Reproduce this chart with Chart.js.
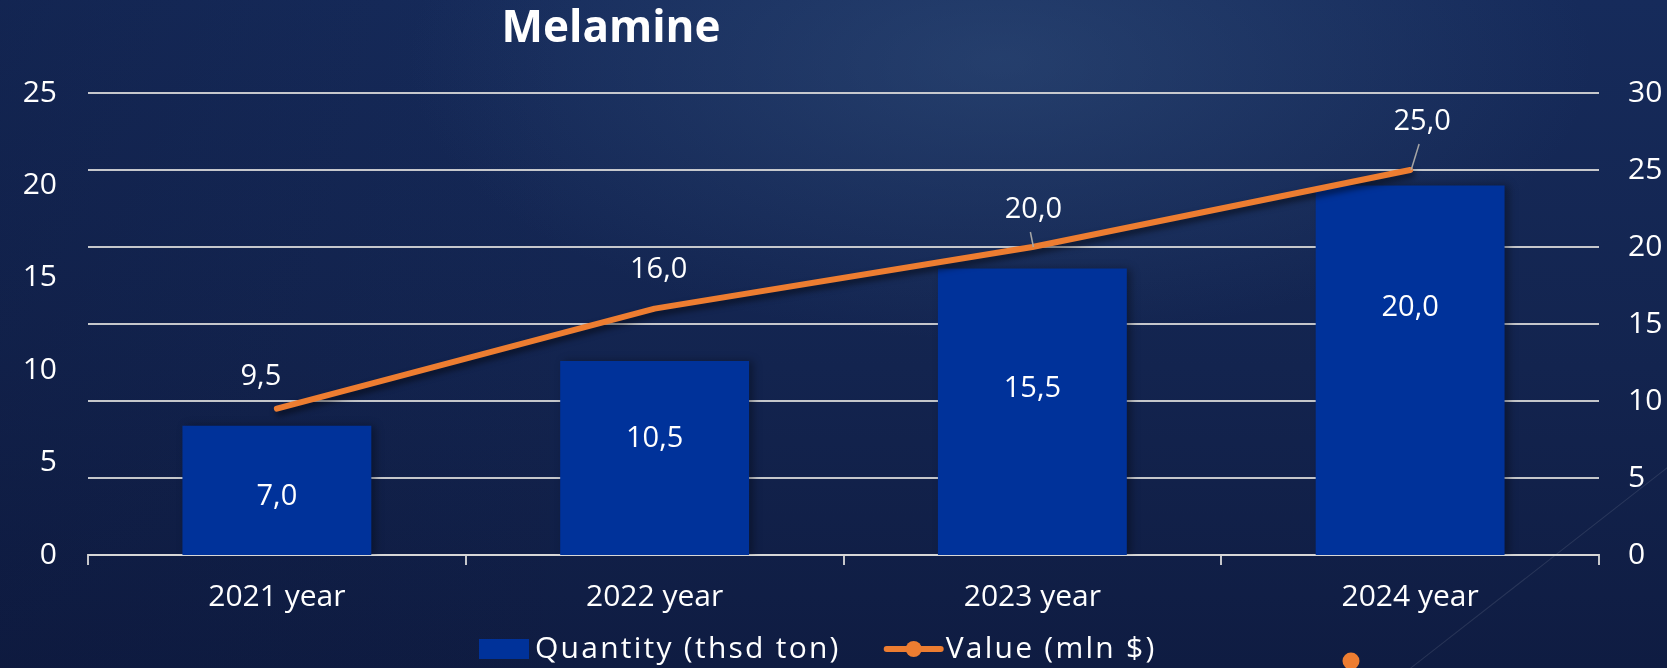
<!DOCTYPE html>
<html>
<head>
<meta charset="utf-8">
<script src="https://cdn.jsdelivr.net/npm/chart.js@4"></script>
<style>
  html, body { margin: 0; padding: 0; }
  body {
    width: 1667px; height: 668px; overflow: hidden; position: relative;
    background:
      radial-gradient(ellipse 760px 360px at 1000px 60px, rgba(62, 96, 140, 0.38), rgba(62, 96, 140, 0) 78%),
      linear-gradient(to right, rgba(10,20,55,0.25) 0%, rgba(10,20,55,0) 35%),
      linear-gradient(to bottom, #162b5b 0%, #13244f 55%, #0f1c42 100%);
  }
  .streak {
    position: absolute; left: 1410px; top: 668px; width: 340px; height: 1px;
    background: rgba(255,255,255,0.10); transform: rotate(-38deg); transform-origin: 0 0;
  }
  #wrap { position: absolute; left: 0; top: 0; width: 1667px; height: 668px; }
</style>
</head>
<body>
<div class="streak"></div>
<div id="wrap"><canvas id="chart" width="1667" height="668"></canvas></div>
<script>
// Melamine: quantity (bars, left axis) and value (line, right axis)
const years = ['2021 year', '2022 year', '2023 year', '2024 year'];
const quantity = [7.0, 10.5, 15.5, 20.0];   // thsd ton
const value = [9.5, 16.0, 20.0, 25.0];      // mln $

const FONT = "'Open Sans', 'Noto Sans', sans-serif";
const SPACING = '1.5px';
const fmt = v => v.toFixed(1).replace('.', ',');

// label placement (fraction of bar height, offsets for line labels)
const barLabelAt = [0.45, 0.60, 0.58, 0.67];
const lineLabelDx = [-16, 4, 1, 12];
const lineLabelDy = [-32, -39, -37, -48];
const lineLabelLeader = [false, false, true, true];

const shadows = {
  id: 'shadows',
  beforeDatasetDraw(chart, args) {
    const ctx = chart.ctx;
    ctx.save();
    if (args.meta.type === 'line') {
      ctx.shadowColor = 'rgba(0,0,0,0.55)';
      ctx.shadowBlur = 6;
      ctx.shadowOffsetX = 2;
      ctx.shadowOffsetY = 4;
    } else {
      ctx.shadowColor = 'rgba(0,0,0,0.35)';
      ctx.shadowBlur = 8;
      ctx.shadowOffsetX = 4;
    }
  },
  afterDatasetDraw(chart) {
    chart.ctx.restore();
  }
};

const valueLabels = {
  id: 'valueLabels',
  afterDatasetsDraw(chart) {
    const ctx = chart.ctx;
    ctx.save();
    ctx.font = `400 29px ${FONT}`;
    ctx.fillStyle = '#ffffff';
    ctx.textAlign = 'center';
    ctx.textBaseline = 'middle';

    chart.getDatasetMeta(0).data.forEach((bar, i) => {
      const y = bar.base - barLabelAt[i] * (bar.base - bar.y);
      ctx.fillText(fmt(quantity[i]), bar.x, y);
    });

    chart.getDatasetMeta(1).data.forEach((pt, i) => {
      const lx = pt.x + lineLabelDx[i];
      const ly = pt.y + lineLabelDy[i];
      if (lineLabelLeader[i]) {
        ctx.strokeStyle = '#a6a6a6';
        ctx.lineWidth = 1.5;
        ctx.beginPath();
        ctx.moveTo(lx - 3, ly + 22);
        ctx.lineTo(pt.x + 1, pt.y);
        ctx.stroke();
      }
      ctx.fillText(fmt(value[i]), lx, ly);
    });
    ctx.restore();
  }
};

// title + legend drawn on the canvas
const decor = {
  id: 'decor',
  afterDraw(chart) {
    const ctx = chart.ctx;
    const ds = chart.data.datasets;
    ctx.save();
    ctx.fillStyle = '#ffffff';
    ctx.letterSpacing = '0px';
    ctx.font = `700 44px ${FONT}`;
    ctx.textAlign = 'center';
    ctx.textBaseline = 'middle';
    ctx.fillText('Melamine', 611, 29);

    const ly = 649;
    ctx.letterSpacing = '2.25px';
    ctx.font = `400 30px ${FONT}`;
    ctx.textAlign = 'left';
    let x = 479;
    ctx.fillStyle = ds[0].backgroundColor;
    ctx.fillRect(x, ly - 10, 50, 20);
    x += 56;
    ctx.fillStyle = '#ffffff';
    ctx.fillText(ds[0].label, x, ly);
    x += ctx.measureText(ds[0].label).width + 43;

    ctx.strokeStyle = ds[1].borderColor;
    ctx.lineWidth = 6;
    ctx.lineCap = 'round';
    ctx.beginPath();
    ctx.moveTo(x + 3, ly);
    ctx.lineTo(x + 57, ly);
    ctx.stroke();
    ctx.fillStyle = ds[1].borderColor;
    ctx.beginPath();
    ctx.arc(x + 30, ly, 8, 0, Math.PI * 2);
    ctx.fill();
    x += 62;
    ctx.fillStyle = '#ffffff';
    ctx.fillText(ds[1].label, x, ly);

    // spare series marker below the legend row
    ctx.fillStyle = ds[1].borderColor;
    ctx.beginPath();
    ctx.arc(1351, 661, 8.5, 0, Math.PI * 2);
    ctx.fill();
    ctx.restore();
  }
};

const tickFont = { family: FONT, size: 30, weight: 400 };
const lineGrey = 'rgba(217,217,217,0.9)';

const canvas = document.getElementById('chart');
canvas.getContext('2d').letterSpacing = SPACING;

new Chart(canvas, {
  type: 'bar',
  data: {
    labels: years,
    datasets: [
      {
        type: 'bar',
        label: 'Quantity (thsd ton)',
        data: quantity,
        yAxisID: 'y',
        backgroundColor: '#00329a',
        borderWidth: 0,
        barPercentage: 0.5,
        categoryPercentage: 1,
        order: 1
      },
      {
        type: 'line',
        label: 'Value (mln $)',
        data: value,
        yAxisID: 'y1',
        borderColor: '#ed7d31',
        backgroundColor: '#ed7d31',
        borderWidth: 6,
        borderCapStyle: 'round',
        borderJoinStyle: 'round',
        pointRadius: 0,
        tension: 0,
        order: 0
      }
    ]
  },
  options: {
    responsive: false,
    devicePixelRatio: 1,
    animation: false,
    layout: { padding: { top: 93, left: 0, right: 0, bottom: 0 } },
    plugins: {
      legend: { display: false },
      title: { display: false },
      tooltip: { enabled: false }
    },
    scales: {
      x: {
        offset: true,
        grid: {
          display: true, offset: true, drawOnChartArea: false,
          drawTicks: true, tickLength: 10, color: lineGrey, lineWidth: 2
        },
        border: { display: true, color: lineGrey, width: 2 },
        ticks: { color: '#ffffff', font: tickFont, padding: 14, maxRotation: 0 },
        afterFit(s) { s.height = 113; }
      },
      y: {
        position: 'left',
        min: 0, max: 25,
        grid: { display: false, drawTicks: false },
        border: { display: false },
        ticks: { stepSize: 5, color: '#ffffff', font: tickFont, padding: 31 },
        afterFit(s) { s.width = 88; }
      },
      y1: {
        position: 'right',
        min: 0, max: 30,
        grid: { color: lineGrey, lineWidth: 2, drawTicks: false },
        border: { display: false },
        ticks: { stepSize: 5, color: '#ffffff', font: tickFont, padding: 29 },
        afterFit(s) { s.width = 68; }
      }
    }
  },
  plugins: [shadows, valueLabels, decor]
});
</script>
</body>
</html>
